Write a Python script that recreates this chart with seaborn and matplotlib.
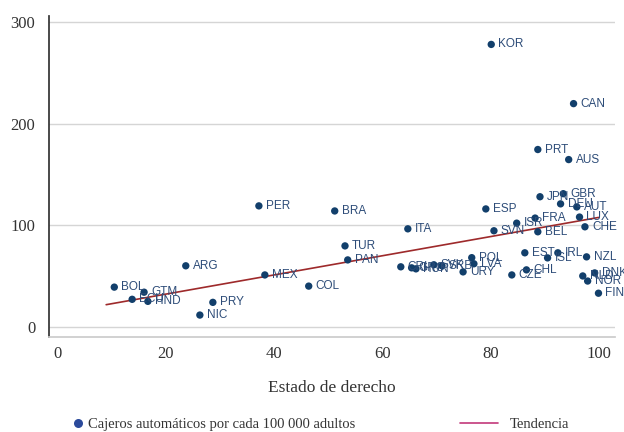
import numpy as np
import pandas as pd
import seaborn as sns
import matplotlib.pyplot as plt
from matplotlib.lines import Line2D

# Countries, rule of law score, ATMs per 100 000 adults
countries = ['KOR', 'CAN', 'PRT', 'AUS', 'GBR', 'JPN', 'DEU', 'AUT', 'ESP', 'LUX',
             'FRA', 'ISR', 'CHE', 'SVN', 'BEL', 'EST', 'IRL', 'ISL', 'NZL', 'CHL',
             'CZE', 'NLD', 'NOR', 'DNK', 'FIN', 'CRI', 'GRC', 'HUN', 'SVK', 'SRB',
             'URY', 'POL', 'LVA', 'ITA', 'PER', 'BRA', 'TUR', 'PAN', 'MEX', 'COL',
             'ARG', 'BOL', 'ECU', 'GTM', 'HND', 'PRY', 'NIC']
rule_of_law = [80.1, 95.3, 88.7, 94.4, 93.4, 89.1, 92.9, 95.9, 79.1, 96.4,
               88.2, 84.8, 97.4, 80.6, 88.7, 86.3, 92.4, 90.5, 97.7, 86.6,
               83.9, 97.0, 97.9, 99.2, 99.9, 63.4, 65.4, 66.2, 69.5, 71.0,
               74.9, 76.5, 76.9, 64.7, 37.2, 51.2, 53.1, 53.6, 38.3, 46.4,
               23.7, 10.5, 13.8, 16.0, 16.7, 28.7, 26.3]
atms = [278, 219.7, 174.5, 164.6, 131, 128, 121, 118, 116, 108,
        107, 102, 98.4, 94.5, 93.5, 72.8, 72.8, 67.8, 68.8, 56,
        51, 50, 45, 53, 33, 59, 58, 57, 61, 60,
        54, 68, 62, 96.4, 119, 114, 79.6, 65.8, 51, 40,
        60, 39, 27, 34, 25, 24, 11.5]

# trend line end points
trend_x = [9.0, 99.9]
trend_y = [21.7, 107.6]

df = pd.DataFrame({'pais': countries, 'x': rule_of_law, 'y': atms})
trend = pd.DataFrame({'x': trend_x, 'y': trend_y})

dot_color = '#123f6b'
line_color = '#9e2a2b'
label_color = '#2d4c78'

sns.set_theme(style='white')
plt.rcParams['font.family'] = ['Liberation Serif']

fig = plt.figure(figsize=(6.24, 4.32), dpi=100)
ax = fig.add_axes([0.079, 0.219, 0.907, 0.744])

ax.yaxis.grid(True, color='#d5d5d5', linewidth=1)
ax.set_axisbelow(True)

sns.lineplot(data=trend, x='x', y='y', color=line_color, linewidth=1.2, ax=ax)
sns.scatterplot(data=df, x='x', y='y', color=dot_color, s=28, edgecolor='none', ax=ax, zorder=3)

for _, r in df.iterrows():
    ax.annotate(r['pais'], (r['x'], r['y']), xytext=(5, 0), textcoords='offset points',
                va='center', ha='left', fontsize=8.5, color=label_color,
                family='Liberation Sans', zorder=4)

ax.set_xlim(-1.5, 103)
ax.set_ylim(-10.5, 306)
ax.set_xticks([0, 20, 40, 60, 80, 100])
ax.set_yticks([0, 100, 200, 300])
ax.tick_params(axis='both', length=0, labelsize=12, colors='#333333')
ax.tick_params(axis='y', pad=10)
ax.tick_params(axis='x', pad=6)

for s in ['top', 'right']:
    ax.spines[s].set_visible(False)
ax.spines['left'].set_color('#333333')
ax.spines['bottom'].set_color('#cccccc')

ax.set_xlabel('Estado de derecho', fontsize=12.5, color='#333333', labelpad=13)
ax.set_ylabel('')

h_dots = Line2D([], [], marker='o', color='none', markerfacecolor='#2b4a9b',
                markeredgecolor='none', markersize=6.5,
                label='Cajeros automáticos por cada 100 000 adultos')
h_line = Line2D([], [], color='#c2387a', linewidth=1.2, label='Tendencia')

leg1 = fig.legend(handles=[h_dots], loc='center left', bbox_to_anchor=(0.116, 0.0185),
                  frameon=False, fontsize=10.5, handlelength=0.8, handletextpad=0.3,
                  borderpad=0, borderaxespad=0, labelcolor='#333333')
leg2 = fig.legend(handles=[h_line], loc='center left', bbox_to_anchor=(0.737, 0.0185),
                  frameon=False, fontsize=10.5, handlelength=2.6, handletextpad=0.8,
                  borderpad=0, borderaxespad=0, labelcolor='#333333')

fig.savefig('out.png', dpi=100)
